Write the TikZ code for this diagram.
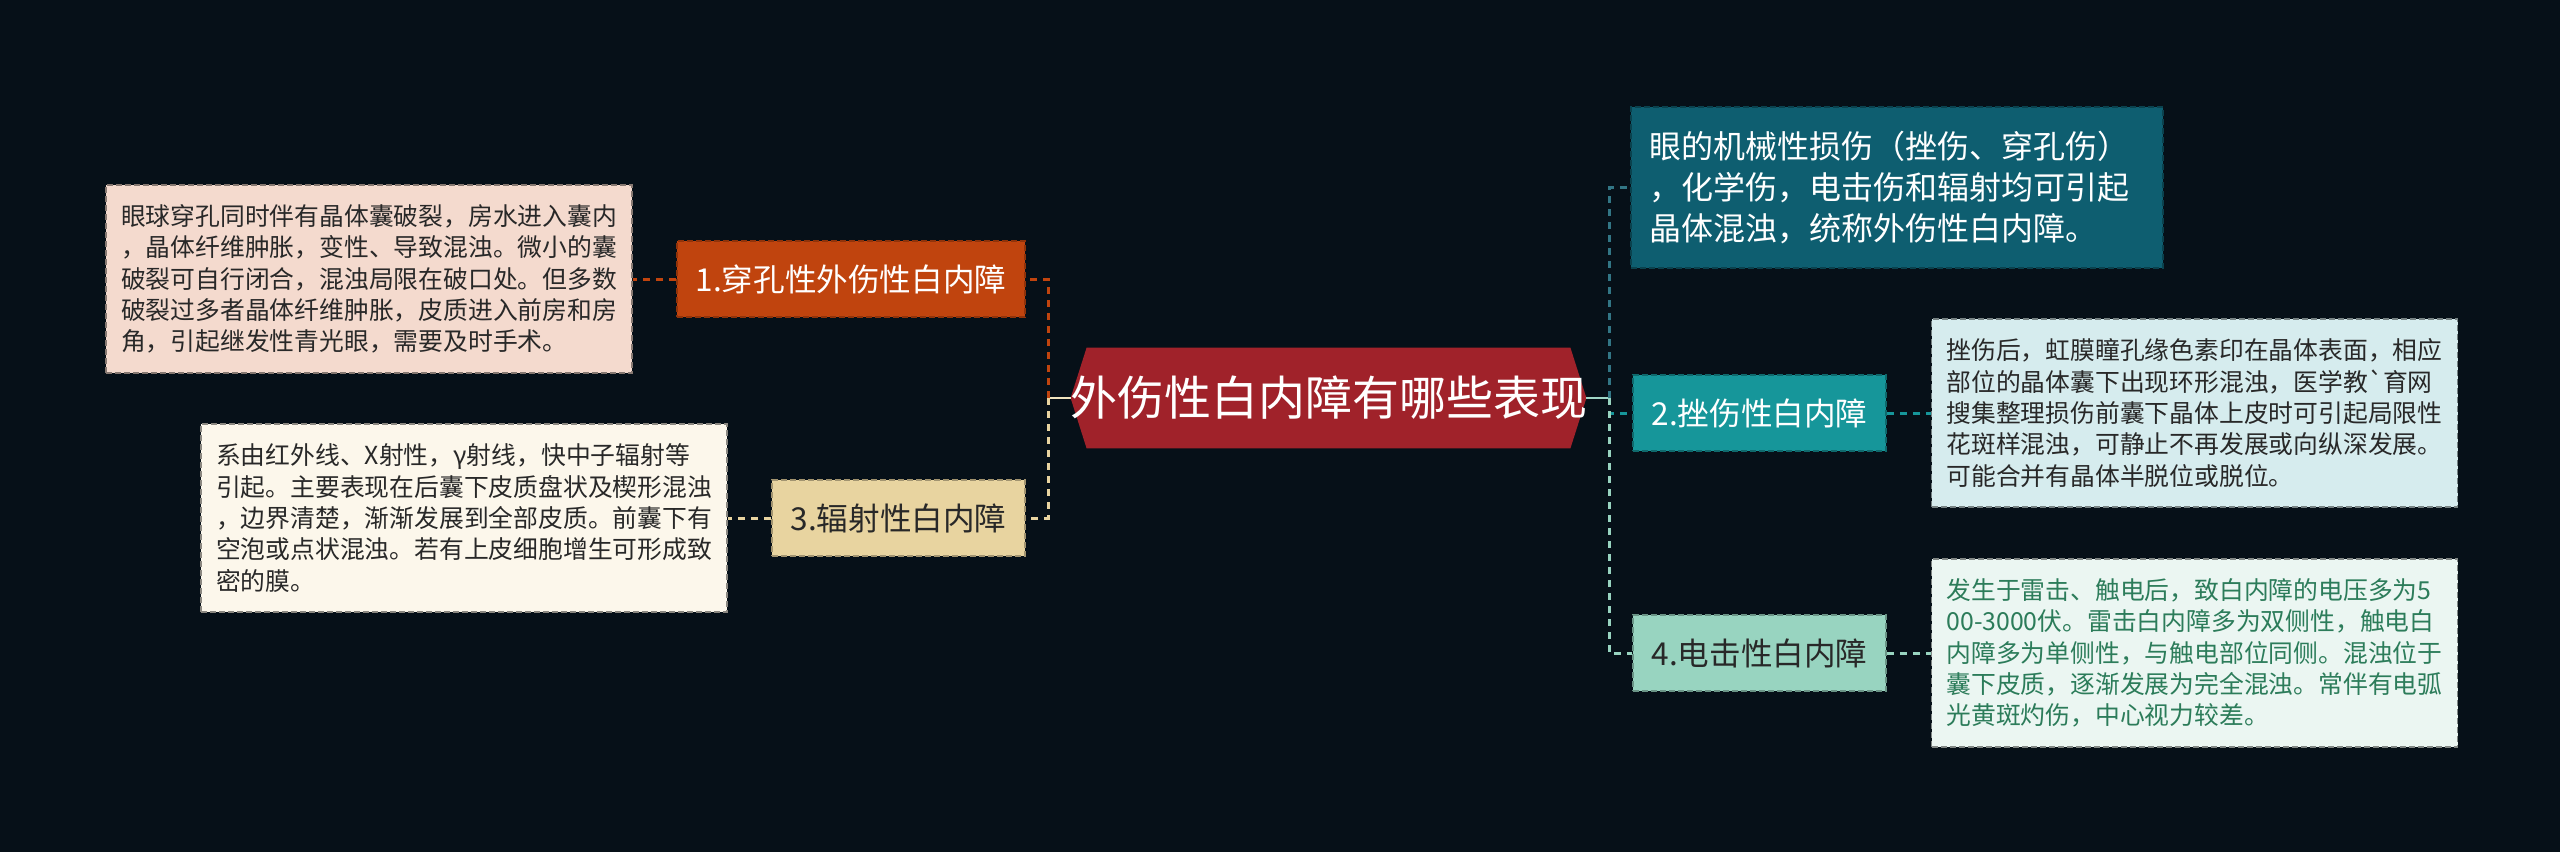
\documentclass[tikz,border=0pt]{standalone}
\usepackage{fontspec}
\setmainfont{Noto Sans CJK SC}
\definecolor{bg}{RGB}{6,16,24}
\definecolor{hexc}{RGB}{160,34,42}
\definecolor{nA}{RGB}{192,68,14}
\definecolor{dA}{RGB}{244,218,206}
\definecolor{nC}{RGB}{232,212,160}
\definecolor{dC}{RGB}{252,247,235}
\definecolor{tp}{RGB}{14,94,112}
\definecolor{nB}{RGB}{22,150,154}
\definecolor{dB}{RGB}{214,236,238}
\definecolor{nD}{RGB}{152,212,192}
\definecolor{dD}{RGB}{235,246,242}
\definecolor{dDtext}{RGB}{44,124,90}
\definecolor{darktext}{RGB}{40,40,40}
\definecolor{creamline}{RGB}{240,228,190}
\definecolor{mintline}{RGB}{160,214,198}
\begin{document}
\begin{tikzpicture}[x=0.5pt,y=-0.5pt,
  labelbox/.style={rectangle, inner sep=0pt, minimum height=38pt, minimum width=126.5pt,
    font=\fontsize{15.8pt}{19pt}\selectfont, line width=0.8pt, dash pattern=on 3pt off 1.5pt},
  detailbox/.style={rectangle, inner ysep=0pt, inner xsep=7.5pt, text width=248pt, align=left,
    minimum height=94pt, font=\fontsize{12.4pt}{15.65pt}\selectfont, line width=0.8pt,
    dash pattern=on 3pt off 1.5pt},
  conn/.style={line width=1.5pt, dash pattern=on 3.5pt off 3pt},
  stem/.style={line width=1.1pt}
]
\fill[bg] (0,0) rectangle (2560,852);
\useasboundingbox (0,0) rectangle (2560,852);

% central hexagon
\node[rectangle, inner sep=0pt, minimum width=257.5pt, minimum height=50pt] (hex) at (1328.5,398) {};
\fill[hexc] (hex.west) -- ([xshift=8pt]hex.north west) -- ([xshift=-8pt]hex.north east)
  -- (hex.east) -- ([xshift=-8pt]hex.south east) -- ([xshift=8pt]hex.south west) -- cycle;
\node[text=white, font=\fontsize{23.5pt}{28pt}\selectfont, inner sep=0pt] (hexlabel) at (hex.center) {外伤性白内障有哪些表现};

% left side
\node[labelbox, fill=nA, draw=nA!75!black, text=white, minimum width=174pt] (n1) at (851,279) {1.穿孔性外伤性白内障};
\node[detailbox, fill=dA, draw=dA!55!black, text=darktext] (d1) at (369,279)
  {眼球穿孔同时伴有晶体囊破裂，房水进入囊内\\，晶体纤维肿胀，变性、导致混浊。微小的囊\\破裂可自行闭合，混浊局限在破口处。但多数\\破裂过多者晶体纤维肿胀，皮质进入前房和房\\角，引起继发性青光眼，需要及时手术。};
\node[labelbox, fill=nC, draw=nC!70!black, text=darktext] (n3) at (898.5,518) {3.辐射性白内障};
\node[detailbox, fill=dC, draw=dC!55!black, text=darktext] (d3) at (464,518)
  {系由红外线、X射性，γ射线，快中子辐射等\\引起。主要表现在后囊下皮质盘状及楔形混浊\\，边界清楚，渐渐发展到全部皮质。前囊下有\\空泡或点状混浊。若有上皮细胞增生可形成致\\密的膜。};

% right side
\node[rectangle, fill=tp, draw=tp!70!black, line width=0.8pt, dash pattern=on 3pt off 1.5pt,
  text=white, inner ysep=0pt, inner xsep=9pt, text width=248pt, align=left,
  minimum height=80.5pt, font=\fontsize{16pt}{20.5pt}\selectfont] (top) at (1897,187.5)
  {眼的机械性损伤（挫伤、穿孔伤）\\，化学伤，电击伤和辐射均可引起\\晶体混浊，统称外伤性白内障。};
\node[labelbox, fill=nB, draw=nB!70!black, text=white] (n2) at (1759.5,413) {2.挫伤性白内障};
\node[detailbox, fill=dB, draw=dB!55!black, text=darktext] (d2) at (2194.5,413)
  {挫伤后，虹膜瞳孔缘色素印在晶体表面，相应\\部位的晶体囊下出现环形混浊，医学教\textasciigrave 育网\\搜集整理损伤前囊下晶体上皮时可引起局限性\\花斑样混浊，可静止不再发展或向纵深发展。\\可能合并有晶体半脱位或脱位。};
\node[labelbox, fill=nD, draw=nD!70!black, text=darktext] (n4) at (1759.5,653) {4.电击性白内障};
\node[detailbox, fill=dD, draw=dD!55!black, text=dDtext] (d4) at (2194.5,653)
  {发生于雷击、触电后，致白内障的电压多为5\\00-3000伏。雷击白内障多为双侧性，触电白\\内障多为单侧性，与触电部位同侧。混浊位于\\囊下皮质，逐渐发展为完全混浊。常伴有电弧\\光黄斑灼伤，中心视力较差。};

% junctions
\coordinate (L) at (1048,398);
\coordinate (R) at (1609,398);

% connectors
\draw[stem, creamline] (hex.west) -- (L);
\draw[stem, mintline] (hex.east) -- (R);
\draw[conn, nA] (L) |- (n1.east);
\draw[conn, nC] (L) |- (n3.east);
\draw[conn, tp!85!white] (R) |- (top.west);
\draw[conn, nB] (R) |- (n2.west);
\draw[conn, nD] (R) |- (n4.west);
\draw[conn, nA] (n1.west) -- (d1.east);
\draw[conn, nC] (n3.west) -- (d3.east);
\draw[conn, nB] (n2.east) -- (d2.west);
\draw[conn, nD] (n4.east) -- (d4.west);
\end{tikzpicture}
\end{document}
